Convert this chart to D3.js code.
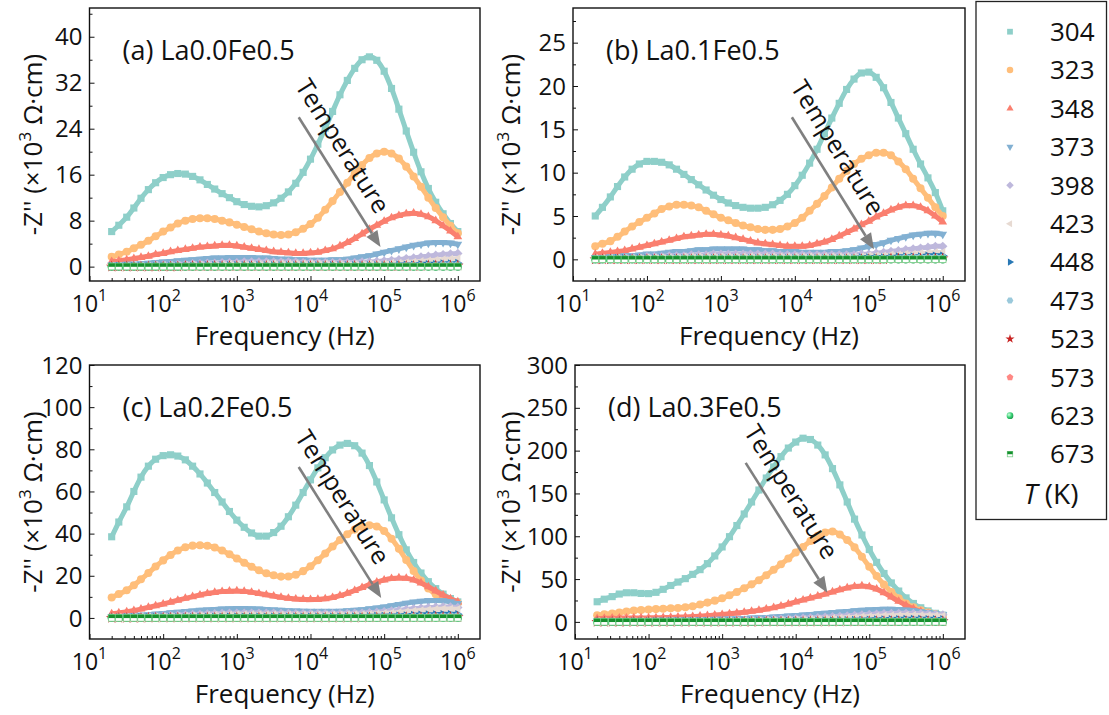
<!DOCTYPE html>
<html>
<head>
<meta charset="utf-8">
<script src="https://cdn.jsdelivr.net/npm/d3@7"></script>
<style>
  body { margin: 0; background: #fff; }
  text { font-family: 'Open Sans', Lato, sans-serif; fill: #111; }
</style>
</head>
<body>
<svg id="chart" width="1109" height="715"></svg>
<script>
// Measurement frequencies (Hz), shared by all series
const freqHz = [20,25,32,40,50,63,79,100,126,158, 200,251,316,398,501,631,794,1000,1259,1585,
  1995,2512,3162,3981,5012,6310,7943,10000,12589,15849, 19953,25119,31623,39811,50119,63096,79433,100000,125893,158489,
  199526,251189,316228,398107,501187,630957,794328,1000000]

// Temperatures (K), one series each
const temps = [304,323,348,373,398,423,448,473,523,573,623,673]
const colors = ['#8ECFC9','#FFBE7A','#FA7F6F','#82B0D2','#BEB8DC','#E7DAD2','#2878B5','#9AC9DB','#C82423','#FF8884','#3CD278','#16902E']
const shapes = ['square','circle','triangle','triangleDown','diamond','triangleLeft','triangleRight','hexagon','star','pentagon','sphere','halfSquare']

const titles = ['(a) La0.0Fe0.5','(b) La0.1Fe0.5','(c) La0.2Fe0.5','(d) La0.3Fe0.5']
const xTickExp = [1,2,3,4,5,6]

// -Z'' (x10^3 ohm cm)
const a304 = [6.1,7.2,8.6,10.2,11.9,13.4,14.6,15.5,16.0,16.2, 16.1,15.7,15.1,14.3,13.5,12.7,12.0,11.3,10.8,10.5,
  10.4,10.6,11.1,11.9,13.0,14.5,16.4,18.7,21.3,24.1, 27.0,29.9,32.4,34.5,36.0,36.5,35.9,34.0,31.0,27.4, 23.6,19.9,16.5,13.6,11.2,9.2,7.5,6.1]
const a323 = [1.7,2.1,2.6,3.2,3.8,4.5,5.3,6.1,6.8,7.5, 8.0,8.3,8.4,8.4,8.3,8.0,7.7,7.3,6.9,6.5,
  6.1,5.8,5.6,5.5,5.6,6.0,6.6,7.4,8.5,9.9, 11.4,13.0,14.6,16.2,17.7,18.9,19.7,20.0,19.7,18.8, 17.4,15.7,13.9,12.0,10.2,8.6,7.1,5.8]
const a348 = [0.9,1.0,1.2,1.4,1.6,1.8,2.1,2.3,2.6,2.8, 3.0,3.2,3.4,3.5,3.6,3.7,3.7,3.6,3.4,3.2,
  3.0,2.8,2.6,2.5,2.4,2.3,2.3,2.4,2.5,2.8, 3.1,3.6,4.2,4.9,5.7,6.5,7.2,7.9,8.5,8.9, 9.2,9.3,9.1,8.7,8.0,7.1,6.2,5.2]
const a373 = [0.3,0.3,0.4,0.4,0.5,0.6,0.7,0.8,0.9,1.0, 1.1,1.2,1.3,1.4,1.5,1.5,1.6,1.6,1.6,1.6,
  1.5,1.5,1.4,1.3,1.3,1.2,1.2,1.1,1.1,1.1, 1.2,1.2,1.3,1.5,1.7,1.9,2.2,2.5,2.8,3.1, 3.4,3.7,3.9,4.1,4.2,4.2,4.1,3.9]
const a398 = [0.1,0.1,0.1,0.2,0.2,0.2,0.3,0.3,0.3,0.4, 0.4,0.5,0.5,0.6,0.6,0.7,0.7,0.7,0.8,0.8,
  0.8,0.8,0.8,0.8,0.8,0.8,0.7,0.7,0.7,0.7, 0.7,0.7,0.7,0.7,0.8,0.8,0.9,1.0,1.1,1.2, 1.4,1.5,1.7,1.8,2.0,2.1,2.2,2.3]
const a423 = [0.1,0.1,0.1,0.1,0.1,0.1,0.2,0.2,0.2,0.2, 0.2,0.3,0.3,0.3,0.3,0.4,0.4,0.4,0.4,0.4,
  0.4,0.5,0.5,0.5,0.5,0.5,0.5,0.5,0.5,0.5, 0.4,0.4,0.4,0.4,0.4,0.5,0.5,0.5,0.6,0.6, 0.7,0.8,0.9,1.0,1.1,1.2,1.3,1.4]
const a448 = [0.1,0.1,0.1,0.1,0.1,0.1,0.1,0.1,0.1,0.1, 0.1,0.1,0.2,0.2,0.2,0.2,0.2,0.2,0.2,0.2,
  0.2,0.2,0.2,0.2,0.2,0.2,0.2,0.2,0.2,0.2, 0.2,0.2,0.2,0.2,0.2,0.2,0.2,0.2,0.2,0.3, 0.3,0.3,0.4,0.4,0.4,0.5,0.5,0.6]
const a473 = [0.1,0.1,0.1,0.1,0.1,0.1,0.1,0.1,0.1,0.1, 0.1,0.1,0.1,0.1,0.1,0.1,0.1,0.1,0.1,0.1,
  0.1,0.1,0.1,0.1,0.1,0.1,0.1,0.1,0.1,0.1, 0.1,0.1,0.1,0.1,0.1,0.1,0.1,0.1,0.1,0.1, 0.1,0.2,0.2,0.2,0.2,0.3,0.3,0.3]
const a523 = [0,0,0,0,0,0,0,0,0,0, 0.1,0.1,0.1,0.1,0.1,0.1,0.1,0.1,0.1,0.1,
  0.1,0.1,0.1,0.1,0.1,0.1,0.1,0.1,0.1,0.1, 0.1,0.1,0.1,0.1,0.1,0.1,0.1,0.1,0.1,0.1, 0.1,0.1,0.1,0.2,0.2,0.2,0.2,0.2]
const a573 = [0,0,0,0,0,0,0,0,0,0, 0,0,0,0,0,0,0,0,0,0,
  0,0,0,0,0,0,0,0,0,0, 0,0,0,0,0,0,0,0,0,0, 0.1,0.1,0.1,0.1,0.1,0.1,0.1,0.1]
const a623 = [0,0,0,0,0,0,0,0,0,0, 0,0,0,0,0,0,0,0,0,0,
  0,0,0,0,0,0,0,0,0,0, 0,0,0,0,0,0,0,0,0,0, 0,0,0,0,0,0,0,0]
const a673 = [0,0,0,0,0,0,0,0,0,0, 0,0,0,0,0,0,0,0,0,0,
  0,0,0,0,0,0,0,0,0,0, 0,0,0,0,0,0,0,0,0,0, 0,0,0,0,0,0,0,0]

// panel (b)
const b304 = [5.0,6.0,7.2,8.4,9.5,10.4,11.0,11.3,11.3,11.2, 10.9,10.4,9.8,9.2,8.6,8.0,7.4,6.9,6.5,6.2,
  6.0,5.9,5.9,6.0,6.3,6.8,7.5,8.5,9.7,11.1, 12.7,14.5,16.3,18.0,19.6,20.8,21.5,21.6,21.0,19.8, 18.1,16.3,14.5,12.7,11.0,9.4,7.7,5.6]
const b323 = [1.5,1.8,2.1,2.6,3.2,3.8,4.3,4.8,5.3,5.8, 6.1,6.3,6.3,6.2,6.0,5.6,5.2,4.8,4.5,4.2,
  3.9,3.7,3.5,3.4,3.4,3.5,3.8,4.2,4.8,5.6, 6.4,7.3,8.3,9.3,10.2,11.0,11.6,12.0,12.3,12.3, 12.0,11.3,10.4,9.3,8.2,7.1,6.0,5.0]
const b348 = [0.6,0.7,0.8,0.9,1.0,1.2,1.4,1.6,1.8,2.0, 2.2,2.4,2.6,2.7,2.8,2.9,2.9,2.8,2.7,2.5,
  2.3,2.1,1.9,1.8,1.7,1.6,1.5,1.5,1.5,1.6, 1.8,2.0,2.3,2.7,3.1,3.5,4.0,4.4,4.9,5.3, 5.7,6.0,6.2,6.2,6.0,5.6,5.0,4.3]
const b373 = [0.2,0.2,0.3,0.3,0.4,0.4,0.5,0.6,0.6,0.7, 0.8,0.9,0.9,1.0,1.1,1.1,1.2,1.2,1.2,1.2,
  1.2,1.1,1.1,1.0,1.0,0.9,0.9,0.9,0.8,0.8, 0.8,0.8,0.9,0.9,1.0,1.1,1.3,1.5,1.7,1.9, 2.2,2.4,2.6,2.8,2.9,3.0,3.0,2.9]
const b398 = [0.1,0.1,0.1,0.1,0.2,0.2,0.2,0.3,0.3,0.3, 0.4,0.4,0.4,0.5,0.5,0.5,0.6,0.6,0.6,0.6,
  0.6,0.6,0.6,0.6,0.6,0.5,0.5,0.5,0.5,0.5, 0.5,0.5,0.5,0.5,0.5,0.5,0.6,0.6,0.7,0.8, 0.9,1.0,1.1,1.2,1.3,1.4,1.5,1.5]
const b423 = [0.1,0.1,0.1,0.1,0.1,0.1,0.1,0.2,0.2,0.2, 0.2,0.2,0.3,0.3,0.3,0.3,0.3,0.3,0.3,0.3,
  0.3,0.3,0.3,0.3,0.3,0.3,0.3,0.3,0.3,0.3, 0.3,0.3,0.3,0.3,0.3,0.3,0.3,0.4,0.4,0.4, 0.5,0.5,0.6,0.6,0.7,0.7,0.8,0.8]
const b448 = [0,0,0,0.1,0.1,0.1,0.1,0.1,0.1,0.1, 0.1,0.1,0.1,0.1,0.1,0.1,0.1,0.1,0.1,0.1,
  0.1,0.1,0.1,0.1,0.1,0.1,0.1,0.1,0.1,0.1, 0.1,0.1,0.1,0.1,0.1,0.1,0.2,0.2,0.2,0.2, 0.2,0.3,0.3,0.3,0.3,0.4,0.4,0.4]
const b473 = [0,0,0,0,0,0,0,0,0,0, 0.1,0.1,0.1,0.1,0.1,0.1,0.1,0.1,0.1,0.1,
  0.1,0.1,0.1,0.1,0.1,0.1,0.1,0.1,0.1,0.1, 0.1,0.1,0.1,0.1,0.1,0.1,0.1,0.1,0.1,0.1, 0.1,0.1,0.2,0.2,0.2,0.2,0.2,0.2]
const b523 = [0,0,0,0,0,0,0,0,0,0, 0,0,0,0,0,0,0,0,0,0,
  0,0,0,0,0,0,0,0,0,0, 0,0,0,0,0,0,0,0,0,0, 0.1,0.1,0.1,0.1,0.1,0.1,0.1,0.1]
const b573 = [0,0,0,0,0,0,0,0,0,0, 0,0,0,0,0,0,0,0,0,0,
  0,0,0,0,0,0,0,0,0,0, 0,0,0,0,0,0,0,0,0,0, 0,0,0,0,0,0,0,0]
const b623 = [0,0,0,0,0,0,0,0,0,0, 0,0,0,0,0,0,0,0,0,0,
  0,0,0,0,0,0,0,0,0,0, 0,0,0,0,0,0,0,0,0,0, 0,0,0,0,0,0,0,0]
const b673 = [0,0,0,0,0,0,0,0,0,0, 0,0,0,0,0,0,0,0,0,0,
  0,0,0,0,0,0,0,0,0,0, 0,0,0,0,0,0,0,0,0,0, 0,0,0,0,0,0,0,0]

// panel (c)
const c304 = [38.5,45.5,52.7,60.0,66.8,72.0,75.3,77.0,77.4,76.8, 75.0,72.0,68.3,64.0,59.5,55.0,50.5,46.4,43.0,40.3,
  38.8,38.8,40.5,43.5,48.0,53.5,59.5,65.5,71.2,76.0, 79.7,82.0,82.8,81.7,78.2,72.3,64.5,56.0,47.5,39.5, 32.3,26.3,21.3,17.2,13.9,11.3,9.2,7.6]
const c323 = [9.7,11.3,13.1,15.5,18.3,21.3,24.4,27.3,29.9,32.0, 33.5,34.3,34.5,34.2,33.4,32.0,30.2,28.2,26.2,24.3,
  22.6,21.2,20.2,19.6,19.7,20.5,22.2,24.5,27.4,30.6, 33.9,37.0,39.7,41.9,43.3,44.0,43.4,41.2,37.6,32.8, 27.5,22.3,17.7,14.0,11.2,9.3,8.0,7.1]
const c348 = [2.0,2.4,2.9,3.5,4.2,5.0,5.8,6.6,7.5,8.4, 9.3,10.1,10.9,11.6,12.1,12.5,12.7,12.8,12.6,12.2,
  11.6,11.0,10.4,9.8,9.3,9.0,8.8,8.7,8.8,9.1, 9.7,10.6,11.7,13.0,14.4,15.8,17.0,18.0,18.7,19.0, 18.8,18.0,16.6,14.8,12.8,10.9,9.1,7.6]
const c373 = [0.6,0.7,0.9,1.1,1.3,1.5,1.8,2.1,2.4,2.7, 3.0,3.3,3.6,3.8,4.0,4.2,4.3,4.4,4.4,4.3,
  4.2,4.0,3.8,3.6,3.4,3.3,3.2,3.1,3.1,3.1, 3.1,3.2,3.4,3.6,3.9,4.3,4.7,5.2,5.8,6.4, 7.0,7.5,7.9,8.2,8.3,8.1,7.6,6.8]
const c398 = [0.3,0.3,0.4,0.5,0.6,0.7,0.8,1.0,1.1,1.3, 1.4,1.6,1.7,1.9,2.0,2.1,2.2,2.2,2.3,2.3,
  2.3,2.2,2.2,2.1,2.1,2.0,2.0,2.0,2.0,2.0, 2.0,2.0,2.1,2.2,2.3,2.5,2.7,3.0,3.3,3.6, 4.0,4.3,4.6,4.9,5.1,5.2,5.2,5.0]
const c423 = [0.2,0.2,0.3,0.3,0.4,0.4,0.5,0.6,0.7,0.8, 0.9,1.0,1.1,1.2,1.3,1.4,1.4,1.5,1.5,1.5,
  1.5,1.5,1.5,1.4,1.4,1.4,1.4,1.4,1.4,1.4, 1.4,1.4,1.5,1.5,1.6,1.7,1.9,2.1,2.3,2.6, 2.9,3.2,3.5,3.8,4.0,4.2,4.2,4.1]
const c448 = [0.1,0.1,0.1,0.1,0.2,0.2,0.2,0.2,0.3,0.3, 0.3,0.3,0.4,0.4,0.4,0.4,0.5,0.5,0.5,0.5,
  0.5,0.5,0.5,0.5,0.5,0.5,0.5,0.5,0.5,0.5, 0.5,0.5,0.6,0.6,0.6,0.7,0.8,0.8,0.9,1.0, 1.1,1.3,1.4,1.5,1.6,1.7,1.7,1.7]
const c473 = [0.1,0.1,0.1,0.1,0.1,0.1,0.1,0.1,0.1,0.2, 0.2,0.2,0.2,0.2,0.2,0.2,0.2,0.3,0.3,0.3,
  0.3,0.3,0.3,0.3,0.3,0.3,0.3,0.3,0.3,0.3, 0.3,0.3,0.3,0.3,0.3,0.4,0.4,0.4,0.5,0.5, 0.6,0.6,0.7,0.7,0.8,0.8,0.9,0.9]
const c523 = [0,0,0,0,0,0.1,0.1,0.1,0.1,0.1, 0.1,0.1,0.1,0.1,0.1,0.1,0.1,0.1,0.1,0.1,
  0.1,0.1,0.1,0.1,0.1,0.1,0.1,0.1,0.1,0.1, 0.1,0.1,0.1,0.1,0.1,0.2,0.2,0.2,0.2,0.2, 0.3,0.3,0.3,0.3,0.4,0.4,0.4,0.4]
const c573 = [0,0,0,0,0,0,0,0,0,0, 0,0,0,0,0,0,0,0,0,0,
  0.1,0.1,0.1,0.1,0.1,0.1,0.1,0.1,0.1,0.1, 0.1,0.1,0.1,0.1,0.1,0.1,0.1,0.1,0.1,0.1, 0.1,0.2,0.2,0.2,0.2,0.2,0.2,0.2]
const c623 = [0,0,0,0,0,0,0,0,0,0, 0,0,0,0,0,0,0,0,0,0,
  0,0,0,0,0,0,0,0,0,0, 0,0,0,0,0,0,0,0,0,0, 0,0,0,0,0,0,0,0]
const c673 = [0,0,0,0,0,0,0,0,0,0, 0,0,0,0,0,0,0,0,0,0,
  0,0,0,0,0,0,0,0,0,0, 0,0,0,0,0,0,0,0,0,0, 0,0,0,0,0,0,0,0]

// panel (d)
const d304 = [23.5,26.5,29.5,32.5,34.0,34.0,33.2,33.0,34.5,38.0, 42.5,46.5,50.5,55.5,61.0,68.0,77.0,87.5,99.5,112.5,
  126.0,140.0,154.0,168.0,181.0,193.0,203.0,210.0,214.5,213.0, 206.5,195.0,179.0,160.0,140.0,120.0,101.5,84.5,69.5,56.5, 45.5,36.0,28.0,21.5,16.5,12.8,10.0,7.8]
const d323 = [7.8,8.8,9.8,11.0,12.2,13.2,13.9,14.4,14.9,15.3, 15.8,16.3,17.0,18.2,20.2,22.5,24.8,27.5,31.0,35.0,
  39.2,43.8,48.7,54.5,60.8,67.3,74.0,81.0,87.5,94.5, 100.5,104.5,105.5,102.0,95.5,87.0,76.0,64.5,53.5,43.5, 35.0,27.5,21.5,17.0,13.5,10.8,8.8,7.2]
const d348 = [3.9,4.1,4.3,4.4,4.5,4.6,4.6,4.7,4.8,5.0, 5.2,5.5,5.8,6.2,6.7,7.3,7.9,8.6,9.4,10.3,
  11.3,12.4,13.6,15.0,16.6,18.5,20.8,23.3,25.6,27.8, 30.1,32.5,35.0,37.5,39.7,41.3,42.0,41.0,38.3,34.0, 29.0,24.0,19.3,15.3,12.0,9.5,7.6,6.2]
const d373 = [1.0,1.1,1.2,1.3,1.4,1.5,1.6,1.7,1.8,1.9, 2.0,2.1,2.2,2.3,2.5,2.7,2.9,3.1,3.4,3.7,
  4.0,4.4,4.8,5.2,5.7,6.2,6.8,7.4,8.0,8.7, 9.4,10.1,10.8,11.5,12.2,12.9,13.5,14.0,14.4,14.6, 14.6,14.3,13.7,12.9,11.9,10.8,9.6,8.5]
const d398 = [0.5,0.5,0.6,0.6,0.7,0.7,0.8,0.8,0.9,0.9, 1.0,1.0,1.1,1.2,1.3,1.4,1.5,1.6,1.7,1.9,
  2.0,2.2,2.4,2.6,2.9,3.2,3.5,3.8,4.2,4.6, 5.0,5.5,6.0,6.5,7.0,7.6,8.1,8.6,9.1,9.5, 9.8,10.0,10.0,9.9,9.6,9.2,8.7,8.2]
const d423 = [0.3,0.3,0.3,0.4,0.4,0.4,0.5,0.5,0.5,0.6, 0.6,0.7,0.7,0.8,0.8,0.9,1.0,1.0,1.1,1.2,
  1.3,1.4,1.5,1.7,1.8,2.0,2.2,2.4,2.7,3.0, 3.3,3.6,4.0,4.4,4.8,5.2,5.7,6.1,6.5,6.9, 7.2,7.4,7.5,7.5,7.4,7.2,7.0,6.7]
const d448 = [0.1,0.1,0.1,0.1,0.1,0.2,0.2,0.2,0.2,0.2, 0.2,0.3,0.3,0.3,0.3,0.3,0.4,0.4,0.4,0.5,
  0.5,0.5,0.6,0.6,0.7,0.7,0.8,0.9,1.0,1.1, 1.2,1.3,1.4,1.6,1.7,1.9,2.1,2.3,2.5,2.7, 2.8,3.0,3.1,3.1,3.1,3.0,2.9,2.8]
const d473 = [0.1,0.1,0.1,0.1,0.1,0.1,0.1,0.1,0.1,0.1, 0.1,0.2,0.2,0.2,0.2,0.2,0.2,0.2,0.2,0.3,
  0.3,0.3,0.3,0.3,0.4,0.4,0.4,0.5,0.5,0.6, 0.6,0.7,0.7,0.8,0.9,1.0,1.1,1.2,1.3,1.4, 1.4,1.5,1.6,1.6,1.6,1.5,1.5,1.4]
const d523 = [0,0,0,0,0,0,0,0,0,0, 0.1,0.1,0.1,0.1,0.1,0.1,0.1,0.1,0.1,0.1,
  0.1,0.1,0.1,0.2,0.2,0.2,0.2,0.2,0.2,0.3, 0.3,0.3,0.4,0.4,0.4,0.5,0.5,0.6,0.6,0.7, 0.7,0.7,0.8,0.8,0.8,0.8,0.7,0.7]
const d573 = [0,0,0,0,0,0,0,0,0,0, 0,0,0,0,0,0,0,0,0,0,
  0.1,0.1,0.1,0.1,0.1,0.1,0.1,0.1,0.1,0.1, 0.1,0.1,0.2,0.2,0.2,0.2,0.2,0.3,0.3,0.3, 0.3,0.3,0.4,0.4,0.4,0.4,0.4,0.3]
const d623 = [0,0,0,0,0,0,0,0,0,0, 0,0,0,0,0,0,0,0,0,0,
  0,0,0,0,0,0,0,0,0,0, 0,0,0,0,0,0,0,0,0,0, 0,0,0,0,0,0,0,0]
const d673 = [0,0,0,0,0,0,0,0,0,0, 0,0,0,0,0,0,0,0,0,0,
  0,0,0,0,0,0,0,0,0,0, 0,0,0,0,0,0,0,0,0,0, 0,0,0,0,0,0,0,0]

// y ticks per panel
const yTicksA = [0,8,16,24,32,40], yMinorA = [4,12,20,28,36,44]
const yTicksB = [0,5,10,15,20,25], yMinorB = [2.5,7.5,12.5,17.5,22.5,27.5]
const yTicksC = [0,20,40,60,80,100,120], yMinorC = [10,30,50,70,90,110]
const yTicksD = [0,50,100,150,200,250,300], yMinorD = [25,75,125,175,225,275]

// "Temperature" arrows: [freq, value] of tail, head and label centre
const arrowA = [[6918,26.0],[89125,3.4],[27227,21.0]]
const arrowB = [[9120,16.4],[117490,1.15],[38019,12.9]]
const arrowC = [[6918,71.6],[91200,9.5],[27227,57.3]]
const arrowD = [[2089,185.7],[26915,33.9],[8710,151.9]]

const panels = [
  { title: titles[0], data: [a304,a323,a348,a373,a398,a423,a448,a473,a523,a573,a623,a673],
    box: {l: 89.5, t: 8, r: 480, b: 281}, yDomain: [-2.5, 45], yTicks: yTicksA, yMinor: yMinorA, arrow: arrowA, yTitleX: 42 },
  { title: titles[1], data: [b304,b323,b348,b373,b398,b423,b448,b473,b523,b573,b623,b673],
    box: {l: 573, t: 8, r: 965, b: 281}, yDomain: [-2.5, 29], yTicks: yTicksB, yMinor: yMinorB, arrow: arrowB, yTitleX: 520 },
  { title: titles[2], data: [c304,c323,c348,c373,c398,c423,c448,c473,c523,c573,c623,c673],
    box: {l: 89.5, t: 365, r: 480, b: 639}, yDomain: [-10, 120], yTicks: yTicksC, yMinor: yMinorC, arrow: arrowC, yTitleX: 42 },
  { title: titles[3], data: [d304,d323,d348,d373,d398,d423,d448,d473,d523,d573,d623,d673],
    box: {l: 575, t: 365, r: 965, b: 639}, yDomain: [-20, 300], yTicks: yTicksD, yMinor: yMinorD, arrow: arrowD, yTitleX: 520 }
]

const svg = d3.select('#chart')
const defs = svg.append('defs')
const grad = defs.append('radialGradient').attr('id', 'sphere')
  .attr('cx', '35%').attr('cy', '35%').attr('r', '70%')
grad.append('stop').attr('offset', '0%').attr('stop-color', '#d2ffe0')
grad.append('stop').attr('offset', '55%').attr('stop-color', '#3cd278')
grad.append('stop').attr('offset', '100%').attr('stop-color', '#1c9a4a')

// regular polygon centred at 0,0
function polygon(n, r, rot) {
  let pts = d3.range(n).map(i => {
    let a = rot + i * 2 * Math.PI / n
    return [r * Math.sin(a), -r * Math.cos(a)]
  })
  return 'M' + pts.map(p => p[0].toFixed(2) + ',' + p[1].toFixed(2)).join('L') + 'Z'
}

// k scales the marker: plot markers are a bit larger than the legend ones
function markerPaths(k) {
  return {
    square: d3.symbol(d3.symbolSquare, 30 * k * k)(),
    circle: d3.symbol(d3.symbolCircle, 30 * k * k)(),
    triangle: polygon(3, 3.9 * k, 0),
    triangleDown: polygon(3, 3.9 * k, Math.PI),
    diamond: polygon(4, 3.6 * k, 0),
    triangleLeft: polygon(3, 3.9 * k, -Math.PI / 2),
    triangleRight: polygon(3, 3.9 * k, Math.PI / 2),
    hexagon: polygon(6, 3.2 * k, Math.PI / 6),
    star: d3.symbol(d3.symbolStar, 24 * k * k)(),
    pentagon: polygon(5, 3.4 * k, 0),
    sphere: d3.symbol(d3.symbolCircle, 32 * k * k)()
  }
}
const plotMarks = markerPaths(1.3)
const legendMarks = markerPaths(1.05)

function drawMarker(g, marks, k, shape, color, x, y) {
  if (shape === 'halfSquare') {
    const h = 2.7 * k
    g.append('rect').attr('x', x - h).attr('y', y - h).attr('width', 2 * h).attr('height', 2 * h)
      .attr('fill', '#fff').attr('stroke', '#7ccf8c').attr('stroke-width', 0.8)
    g.append('rect').attr('x', x - h).attr('y', y - h).attr('width', 2 * h).attr('height', h * 1.05)
      .attr('fill', color)
    return
  }
  g.append('path').attr('d', marks[shape])
    .attr('transform', `translate(${x},${y})`)
    .attr('fill', shape === 'sphere' ? 'url(#sphere)' : color)
}

const line = d3.line().curve(d3.curveMonotoneX)

panels.forEach(p => {
  const x = d3.scaleLog().domain([10, 2e6]).range([p.box.l, p.box.r])
  const y = d3.scaleLinear().domain(p.yDomain).range([p.box.b, p.box.t])
  const g = svg.append('g')

  // series: a band through the points plus the markers
  p.data.forEach((vals, i) => {
    const pts = freqHz.map((f, j) => [x(f), y(vals[j])])
    if (shapes[i] !== 'halfSquare') {
      g.append('path').attr('d', line(pts))
        .attr('fill', 'none').attr('stroke', colors[i]).attr('stroke-width', 5)
    }
    const mg = g.append('g')
    pts.forEach(pt => drawMarker(mg, plotMarks, 1.2, shapes[i], colors[i], pt[0], pt[1]))
  })

  // frame
  g.append('rect').attr('x', p.box.l).attr('y', p.box.t)
    .attr('width', p.box.r - p.box.l).attr('height', p.box.b - p.box.t)
    .attr('fill', 'none').attr('stroke', '#111').attr('stroke-width', 1.4)

  // x ticks (inward)
  const majorX = xTickExp.map(e => Math.pow(10, e))
  const minorX = []
  xTickExp.slice(0, 5).forEach(e => d3.range(2, 10).forEach(m => minorX.push(m * Math.pow(10, e))))
  g.append('g').attr('transform', `translate(0,${p.box.b})`)
    .call(d3.axisBottom(x).tickValues(majorX).tickSize(-5).tickFormat(''))
    .call(s => s.select('.domain').remove())
  g.append('g').attr('transform', `translate(0,${p.box.b})`)
    .call(d3.axisBottom(x).tickValues(minorX).tickSize(-3).tickFormat(''))
    .call(s => s.select('.domain').remove())
  g.selectAll('.tick line').attr('stroke', '#111')

  xTickExp.forEach(e => {
    const t = g.append('text').attr('x', x(Math.pow(10, e))).attr('y', p.box.b + 31)
      .attr('text-anchor', 'middle').style('font-size', '23px')
    t.append('tspan').text('10')
    t.append('tspan').attr('dy', -11).style('font-size', '16px').text(e)
  })

  // y ticks (inward)
  g.append('g').attr('transform', `translate(${p.box.l},0)`)
    .call(d3.axisLeft(y).tickValues(p.yTicks).tickSize(-5).tickFormat(''))
    .call(s => s.select('.domain').remove())
  g.append('g').attr('transform', `translate(${p.box.l},0)`)
    .call(d3.axisLeft(y).tickValues(p.yMinor).tickSize(-3).tickFormat(''))
    .call(s => s.select('.domain').remove())
  g.selectAll('.tick line').attr('stroke', '#111')

  p.yTicks.forEach(v => {
    g.append('text').attr('x', p.box.l - 7).attr('y', y(v)).attr('dy', '0.36em')
      .attr('text-anchor', 'end').style('font-size', '24px').text(v)
  })

  // axis titles
  g.append('text').attr('x', (p.box.l + p.box.r) / 2).attr('y', p.box.b + 64)
    .attr('text-anchor', 'middle').style('font-size', '26px').text('Frequency (Hz)')
  const yt = g.append('text')
    .attr('transform', `translate(${p.yTitleX},${(p.box.t + p.box.b) / 2}) rotate(-90)`)
    .attr('text-anchor', 'middle').style('font-size', '26px')
  yt.append('tspan').text("-Z'' (×10")
  yt.append('tspan').attr('dy', -11).style('font-size', '17px').text('3')
  yt.append('tspan').attr('dy', 11).text(' Ω·cm)')

  // panel title
  g.append('text').attr('x', p.box.l + 33).attr('y', p.box.t + 52)
    .style('font-size', '27px').text(p.title)

  // temperature arrow
  const p0 = [x(p.arrow[0][0]), y(p.arrow[0][1])]
  const p1 = [x(p.arrow[1][0]), y(p.arrow[1][1])]
  const ang = Math.atan2(p1[1] - p0[1], p1[0] - p0[0])
  const headLen = 16, headW = 6.5
  const base = [p1[0] - headLen * Math.cos(ang), p1[1] - headLen * Math.sin(ang)]
  g.append('line').attr('x1', p0[0]).attr('y1', p0[1]).attr('x2', base[0]).attr('y2', base[1])
    .attr('stroke', '#808080').attr('stroke-width', 2.6)
  g.append('path').attr('fill', '#808080')
    .attr('d', `M${p1[0]},${p1[1]}L${base[0] + headW * Math.sin(ang)},${base[1] - headW * Math.cos(ang)}L${base[0] - headW * Math.sin(ang)},${base[1] + headW * Math.cos(ang)}Z`)
  const lc = [x(p.arrow[2][0]), y(p.arrow[2][1])]
  g.append('text').attr('transform', `translate(${lc[0]},${lc[1]}) rotate(${ang * 180 / Math.PI})`)
    .attr('text-anchor', 'middle').attr('dy', '0.35em').style('font-size', '25px').text('Temperature')
})

// legend
const lg = svg.append('g')
lg.append('rect').attr('x', 976).attr('y', 1.5).attr('width', 130.5).attr('height', 518)
  .attr('fill', 'none').attr('stroke', '#222').attr('stroke-width', 1.3)
temps.forEach((t, i) => {
  const yy = 31.7 + i * 38.4
  drawMarker(lg, legendMarks, 1, shapes[i], colors[i], 1010, yy)
  lg.append('text').attr('x', 1050).attr('y', yy).attr('dy', '0.36em')
    .style('font-size', '26px').text(t)
})
const tk = lg.append('text').attr('x', 1051).attr('y', 504).attr('text-anchor', 'middle').style('font-size', '28px')
tk.append('tspan').style('font-style', 'italic').text('T')
tk.append('tspan').text(' (K)')
</script>
</body>
</html>
